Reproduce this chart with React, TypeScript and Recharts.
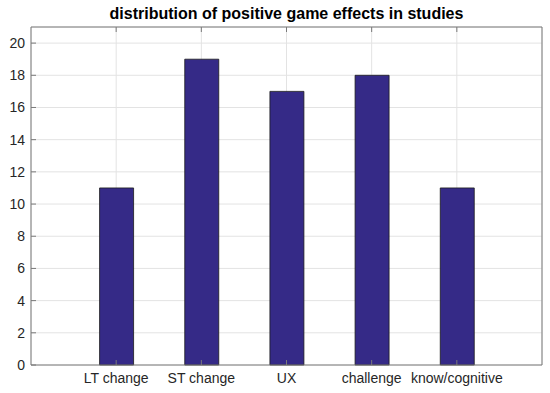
import { BarChart, Bar, XAxis, YAxis, CartesianGrid } from "recharts";

const categories = ["LT change", "ST change", "UX", "challenge", "know/cognitive"];
const positions = [1, 2, 3, 4, 5];
const studies = [11, 19, 17, 18, 11];
const yTicks = [0, 2, 4, 6, 8, 10, 12, 14, 16, 18, 20];

const data = categories.map((name, i) => ({ pos: positions[i], name, studies: studies[i] }));

const font = "Arial, 'Liberation Sans', Helvetica, sans-serif";
const axisColor = "#7a7a7a";
const textColor = "#262626";

export default function App() {
  return (
    <div style={{ position: "absolute", left: 0, top: 0, width: 550, height: 393, background: "#fff" }}>
      <div
        style={{
          position: "absolute",
          left: 31,
          width: 511,
          top: 5,
          textAlign: "center",
          fontFamily: font,
          fontWeight: "bold",
          fontSize: 16,
          color: "#000",
        }}
      >
        distribution of positive game effects in studies
      </div>
      <BarChart
        width={550}
        height={393}
        data={data}
        margin={{ top: 26, right: 7, bottom: 0, left: 0 }}
        style={{ fontFamily: font }}
      >
        <CartesianGrid stroke="#e3e3e3" strokeWidth={1} />
        <XAxis
          dataKey="pos"
          type="number"
          domain={[0, 6]}
          ticks={positions}
          tickFormatter={(v) => categories[v - 1]}
          height={28}
          stroke={axisColor}
          tickSize={-5}
          tickMargin={13}
          interval={0}
          tick={{ fill: textColor, fontSize: 14 }}
        />
        <XAxis
          xAxisId="top"
          dataKey="pos"
          type="number"
          orientation="top"
          domain={[0, 6]}
          ticks={positions}
          height={1}
          stroke={axisColor}
          tickSize={-5}
          tickFormatter={() => ""}
        />
        <YAxis
          domain={[0, 21]}
          ticks={yTicks}
          width={31}
          stroke={axisColor}
          tickSize={-5}
          tickMargin={11}
          interval={0}
          tick={{ fill: textColor, fontSize: 14 }}
        />
        <YAxis
          yAxisId="right"
          orientation="right"
          domain={[0, 21]}
          ticks={yTicks}
          width={1}
          stroke={axisColor}
          tickSize={-5}
          tickFormatter={() => ""}
        />
        <Bar
          dataKey="studies"
          fill="#352a87"
          stroke="#1a1a1a"
          strokeWidth={0.8}
          barSize={34}
          isAnimationActive={false}
        />
      </BarChart>
    </div>
  );
}
